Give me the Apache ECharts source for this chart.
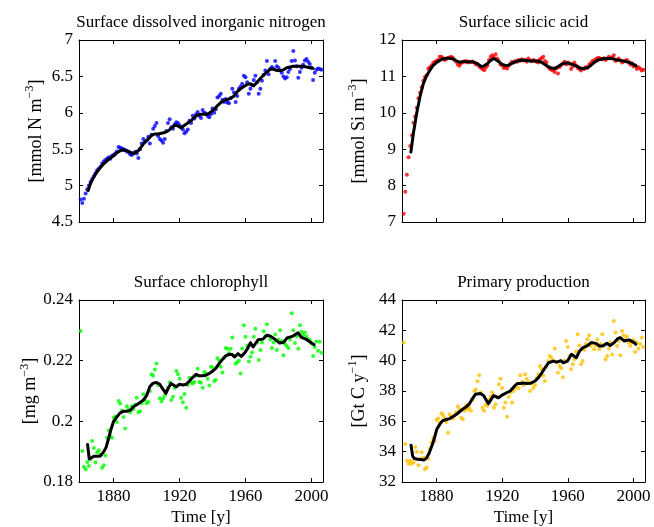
<!DOCTYPE html>
<html><head><meta charset="utf-8">
<script src="https://cdn.jsdelivr.net/npm/echarts@6/dist/echarts.min.js"></script>
<style>html,body{margin:0;padding:0;background:#fff}#c{width:654px;height:527px}</style>
</head><body><div id="c"></div>
<script>
const FIRST_YEAR = 1860;
const xTicks = [1880, 1920, 1960, 2000];

const nitrogenPoints = [
4.81,4.76,4.82,4.89,4.95,5.00,5.05,5.09,5.13,5.17,
5.21,5.23,5.26,5.30,5.33,5.35,5.37,5.39,5.37,5.41,
5.42,5.44,5.47,5.53,5.52,5.51,5.50,5.49,5.47,5.46,
5.43,5.42,5.44,5.46,5.44,5.38,5.50,5.58,5.64,5.60,
5.62,5.67,5.58,5.70,5.78,5.82,5.86,5.68,5.64,5.62,
5.59,5.64,5.75,5.86,5.91,5.80,5.78,5.84,5.87,5.86,
5.83,5.80,5.77,5.72,5.74,5.77,5.89,5.86,5.96,5.92,
5.98,6.01,5.96,5.93,6.04,6.00,5.99,5.96,5.94,5.98,
6.06,6.00,6.05,6.21,6.23,6.26,6.18,6.15,6.19,6.14,
6.13,6.20,6.33,6.28,6.15,6.23,6.33,6.36,6.40,6.51,
6.49,6.42,6.26,6.33,6.38,6.45,6.51,6.42,6.26,6.33,
6.44,6.52,6.58,6.71,6.53,6.60,6.63,6.60,6.71,6.64,
6.62,6.58,6.55,6.50,6.47,6.49,6.56,6.60,6.71,6.85,
6.72,6.64,6.48,6.56,6.62,6.66,6.72,6.74,6.70,6.67,
6.62,6.45,6.55,6.59,6.61,6.60,6.59];
const nitrogenSmooth = [[1864.5,4.93],[1866,5.03],[1868,5.12],[1870,5.19],[1872,5.25],[1874,5.30],[1876,5.34],[1878,5.38],[1880,5.41],[1882,5.45],[1884,5.48],[1886,5.49],[1888,5.48],[1890,5.46],[1892,5.44],[1893,5.44],[1895,5.48],[1897,5.54],[1899,5.60],[1901,5.64],[1903,5.69],[1905,5.71],[1907,5.71],[1909,5.72],[1911,5.73],[1913,5.75],[1915,5.79],[1917,5.83],[1919,5.82],[1921,5.79],[1923,5.83],[1925,5.86],[1927,5.89],[1929,5.94],[1931,5.97],[1933,5.98],[1935,5.98],[1937,5.98],[1939,6.01],[1941,6.05],[1943,6.10],[1945,6.14],[1947,6.17],[1949,6.18],[1951,6.20],[1953,6.23],[1955,6.29],[1957,6.33],[1959,6.36],[1961,6.39],[1963,6.40],[1965,6.37],[1967,6.42],[1969,6.47],[1971,6.52],[1973,6.56],[1975,6.60],[1977,6.60],[1979,6.58],[1981,6.58],[1983,6.59],[1985,6.62],[1987,6.63],[1989,6.64],[1991,6.64],[1993,6.64],[1995,6.64],[1997,6.63],[1999,6.62],[2001,6.61]];

const silicaPoints = [
7.23,7.83,8.30,8.78,9.09,9.38,9.73,9.90,10.14,10.40,
10.55,10.70,10.88,10.98,11.03,11.21,11.25,11.30,11.37,11.40,
11.42,11.45,11.54,11.54,11.50,11.45,11.48,11.51,11.52,11.54,
11.51,11.45,11.40,11.33,11.29,11.36,11.40,11.41,11.42,11.38,
11.40,11.39,11.41,11.38,11.33,11.35,11.27,11.24,11.20,11.17,
11.24,11.30,11.45,11.54,11.58,11.52,11.61,11.49,11.42,11.33,
11.30,11.23,11.26,11.22,11.29,11.35,11.40,11.38,11.42,11.40,
11.45,11.43,11.47,11.44,11.45,11.40,11.49,11.44,11.42,11.45,
11.43,11.40,11.38,11.47,11.50,11.54,11.42,11.38,11.26,11.20,
11.18,11.16,11.12,11.22,11.08,11.26,11.31,11.36,11.40,11.33,
11.38,11.35,11.20,11.27,11.38,11.30,11.24,11.20,11.16,11.22,
11.20,11.26,11.24,11.33,11.37,11.42,11.44,11.47,11.50,11.51,
11.48,11.47,11.50,11.45,11.49,11.54,11.50,11.52,11.58,11.42,
11.46,11.49,11.44,11.38,11.41,11.43,11.45,11.40,11.33,11.36,
11.27,11.30,11.20,11.25,11.22,11.16,11.18];
const silicaSmooth = [[1864.4,8.92],[1866,9.45],[1868,10.0],[1870,10.45],[1872,10.80],[1874,11.02],[1876,11.17],[1878,11.30],[1880,11.38],[1882,11.44],[1884,11.48],[1886,11.50],[1888,11.50],[1890,11.48],[1892,11.43],[1894,11.39],[1896,11.40],[1898,11.40],[1900,11.40],[1902,11.40],[1904,11.37],[1906,11.31],[1907.6,11.27],[1909,11.29],[1911,11.35],[1913,11.44],[1914.8,11.49],[1916.5,11.45],[1918,11.40],[1920,11.33],[1922,11.30],[1924,11.31],[1926,11.36],[1928,11.40],[1930,11.43],[1932,11.45],[1934,11.44],[1936,11.43],[1938,11.42],[1940,11.42],[1942,11.42],[1944,11.39],[1946,11.33],[1948,11.27],[1950,11.23],[1952,11.22],[1954,11.27],[1956,11.33],[1958,11.36],[1960,11.37],[1962,11.34],[1964,11.31],[1966,11.27],[1968,11.22],[1970,11.22],[1972,11.24],[1974,11.30],[1976,11.38],[1978,11.44],[1980,11.47],[1982,11.49],[1984,11.49],[1986,11.49],[1988,11.48],[1990,11.45],[1992,11.44],[1994,11.42],[1996,11.40],[1998,11.37],[2000,11.33],[2001.6,11.29]];

const chlPoints = [
0.2298,0.1902,0.1850,0.1842,0.1866,0.1853,0.1875,0.1935,0.1912,0.1864,
0.1898,0.1905,0.1890,0.1847,0.1855,0.1887,0.1946,0.1970,0.1950,0.1946,
0.2012,0.2015,0.1998,0.2067,0.2059,0.2036,0.2014,0.1976,0.2050,0.2040,
0.2030,0.2050,0.2040,0.2055,0.2078,0.2030,0.2033,0.2060,0.2089,0.2070,
0.2060,0.2064,0.2100,0.2155,0.2150,0.2171,0.2191,0.2120,0.2076,0.2065,
0.2075,0.2085,0.2100,0.2111,0.2129,0.2070,0.2081,0.2110,0.2166,0.2155,
0.2140,0.2078,0.2063,0.2090,0.2045,0.2120,0.2144,0.2128,0.2125,0.2130,
0.2150,0.2173,0.2130,0.2127,0.2111,0.2163,0.2158,0.2140,0.2118,0.2180,
0.2177,0.2133,0.2136,0.2208,0.2200,0.2180,0.2161,0.2210,0.2242,0.2239,
0.2225,0.2239,0.2276,0.2215,0.2190,0.2195,0.2200,0.2158,0.2240,0.2317,
0.2279,0.2250,0.2197,0.2213,0.2227,0.2279,0.2305,0.2260,0.2202,0.2235,
0.2260,0.2297,0.2280,0.2320,0.2283,0.2270,0.2242,0.2260,0.2286,0.2235,
0.2270,0.2300,0.2265,0.2218,0.2255,0.2248,0.2242,0.2270,0.2356,0.2300,
0.2258,0.2280,0.2239,0.2317,0.2295,0.2285,0.2293,0.2280,0.2270,0.2268,
0.2257,0.2215,0.2245,0.2263,0.2233,0.2262,0.2226];
const chlSmooth = [[1864.2,0.1924],[1865.2,0.1876],[1866.5,0.1880],[1868,0.1885],[1870,0.1885],[1872,0.1886],[1874,0.1900],[1875.5,0.1915],[1877,0.1945],[1878.5,0.1975],[1880,0.2000],[1882,0.2015],[1884,0.2028],[1886,0.2033],[1888,0.2033],[1890,0.2036],[1892,0.2048],[1894,0.2055],[1896,0.2062],[1898,0.2070],[1900,0.2085],[1902,0.2115],[1904,0.2126],[1906,0.2128],[1908,0.2122],[1910,0.2105],[1911.7,0.2092],[1913,0.2108],[1914.8,0.2125],[1916,0.2122],[1918,0.2114],[1920,0.2122],[1922,0.2120],[1924,0.2122],[1926,0.2133],[1928,0.2145],[1930,0.2155],[1932,0.2150],[1934,0.2150],[1936,0.2152],[1938,0.2158],[1940,0.2165],[1942,0.2175],[1944,0.2190],[1946,0.2204],[1948,0.2216],[1950,0.2221],[1952,0.2220],[1953.4,0.2212],[1955.4,0.2223],[1957.4,0.2214],[1959.4,0.2225],[1961.5,0.2242],[1963,0.2259],[1964.6,0.2245],[1967.6,0.2269],[1970.6,0.2271],[1972.7,0.2284],[1975,0.2281],[1977.7,0.2271],[1980.7,0.2258],[1983.2,0.2261],[1985.2,0.2275],[1988.8,0.2281],[1991.9,0.2292],[1993.9,0.2277],[1997,0.2270],[2000,0.2258],[2001.6,0.2253]];

const ppPoints = [
41.2,34.5,33.4,33.2,33.4,33.2,33.3,34.3,34.0,33.1,
33.55,33.96,33.6,32.84,32.95,33.55,34.2,34.6,34.9,34.7,
36.09,36.18,35.9,36.53,36.4,36.2,35.95,35.25,36.46,36.3,
36.18,36.4,36.6,37.0,36.8,36.24,36.13,36.7,37.06,36.8,
36.9,36.7,37.4,38.0,38.1,38.65,39.04,37.9,36.9,36.7,
37.1,37.03,37.4,37.64,37.9,36.9,37.13,37.6,38.44,38.8,
38.2,36.9,37.24,36.31,37.6,37.9,37.24,38.0,38.2,38.44,
38.2,39.04,38.6,38.38,39.1,38.8,38.6,38.0,38.5,38.2,
38.4,38.86,39.1,39.65,39.43,39.0,38.66,39.6,39.97,40.3,
40.2,40.0,40.8,39.9,39.2,39.65,39.5,38.9,40.0,41.3,
40.9,40.3,39.43,39.76,40.1,40.6,41.74,41.0,39.76,39.97,
40.7,41.1,41.41,41.67,40.97,41.2,40.75,41.0,41.4,40.75,
41.1,41.74,41.0,40.1,40.3,40.8,41.2,40.4,42.62,41.85,
40.97,41.3,40.35,41.96,41.67,41.4,41.6,41.2,40.97,41.2,
41.37,40.57,41.19,40.8,41.1,41.52,40.9];
const ppSmooth = [[1864.5,34.42],[1865.5,33.7],[1866.5,33.55],[1868.5,33.5],[1870.5,33.48],[1872.5,33.45],[1874,33.6],[1875.5,33.9],[1877.6,34.5],[1879,35.0],[1880.2,35.48],[1882,35.8],[1883.6,36.03],[1886,36.12],[1888,36.18],[1890.6,36.35],[1892.6,36.5],[1894.6,36.68],[1896.6,36.85],[1898.6,37.0],[1900,37.15],[1901.6,37.45],[1903.7,37.78],[1906.7,37.84],[1908.7,37.7],[1910,37.45],[1911.7,37.17],[1913,37.4],[1914.8,37.7],[1916,37.65],[1917.8,37.55],[1919.5,37.7],[1920.8,37.78],[1923,37.9],[1924.9,38.0],[1926.5,38.2],[1927.9,38.37],[1929.5,38.5],[1931.3,38.5],[1933,38.52],[1935,38.5],[1937.1,38.51],[1940.1,38.66],[1942.2,38.9],[1944.2,39.2],[1946.2,39.55],[1948.2,39.86],[1951.2,39.97],[1953.2,39.9],[1955.8,40.0],[1957.2,39.86],[1959.8,39.97],[1962.2,40.42],[1963.2,40.3],[1965.2,40.2],[1967.2,40.64],[1969.2,40.86],[1971.8,40.97],[1974.2,41.19],[1977.2,41.14],[1979.2,40.97],[1981.2,40.97],[1983.8,41.14],[1985.8,41.0],[1988.2,41.19],[1990.3,41.45],[1991.9,41.52],[1994.3,41.3],[1997.3,41.37],[2000.4,41.19],[2001.4,41.08]];

const titles = ['Surface dissolved inorganic nitrogen','Surface silicic acid','Surface chlorophyll','Primary production'];
const unitMain = ['[mmol N m','[mmol Si m','[mg m','[Gt C y'];
const unitExp = ['\u22123','\u22123','\u22123','\u22121'];
const xLabel = 'Time [y]';

const FONT = '"Liberation Serif","Times New Roman",serif';
const years = nitrogenPoints.map((_, i) => FIRST_YEAR + i);

const panels = [
  {pts: nitrogenPoints, sm: nitrogenSmooth, color: '#0000ff', yMin: 4.5, yMax: 7, yInt: 0.5, grid: {left: 79, top: 40, width: 244, height: 182}, bottom: false},
  {pts: silicaPoints, sm: silicaSmooth, color: '#ff0000', yMin: 7, yMax: 12, yInt: 1, grid: {left: 402, top: 40, width: 243, height: 182}, bottom: false},
  {pts: chlPoints, sm: chlSmooth, color: '#00ff00', yMin: 0.18, yMax: 0.24, yInt: 0.02, grid: {left: 79, top: 300, width: 244, height: 182}, bottom: true},
  {pts: ppPoints, sm: ppSmooth, color: '#ffbf00', yMin: 32, yMax: 44, yInt: 2, grid: {left: 402, top: 300, width: 243, height: 182}, bottom: true}
];

const lineStyle = {color: '#000', width: 1};
const tick = {show: true, inside: true, length: 4, lineStyle: {color: '#000', width: 1}};
const grids = [], xAxes = [], yAxes = [], series = [];
panels.forEach((p, g) => {
  grids.push(Object.assign({containLabel: false}, p.grid));
  xAxes.push({
    type: 'value', gridIndex: g, position: 'bottom', min: 1859, max: 2007,
    axisLine: {show: true, onZero: false, lineStyle},
    axisTick: Object.assign({customValues: xTicks}, tick),
    axisLabel: {show: p.bottom, customValues: xTicks, margin: 6, color: '#000', fontFamily: FONT, fontSize: 17, formatter: v => String(v)},
    splitLine: {show: false},
    name: p.bottom ? xLabel : '', nameLocation: 'middle', nameGap: 27,
    nameTextStyle: {color: '#000', fontFamily: FONT, fontSize: 17}
  });
  xAxes.push({
    type: 'value', gridIndex: g, position: 'top', min: 1859, max: 2007,
    axisLine: {show: true, onZero: false, lineStyle},
    axisTick: Object.assign({customValues: xTicks}, tick),
    axisLabel: {show: false, customValues: xTicks},
    splitLine: {show: false},
    name: titles[g], nameLocation: 'middle', nameGap: 9,
    nameTextStyle: {color: '#000', fontFamily: FONT, fontSize: 17}
  });
  yAxes.push({
    type: 'value', gridIndex: g, position: 'left', min: p.yMin, max: p.yMax, interval: p.yInt,
    axisLine: {show: true, onZero: false, lineStyle},
    axisTick: tick,
    axisLabel: {show: true, margin: 6, color: '#000', fontFamily: FONT, fontSize: 17},
    splitLine: {show: false},
    name: '{a|' + unitMain[g] + '}{s|' + unitExp[g] + '}{a|]}',
    nameLocation: 'middle', nameRotate: 90, nameGap: 34,
    nameTextStyle: {
      color: '#000', fontFamily: FONT, fontSize: 18,
      rich: {
        a: {color: '#000', fontFamily: FONT, fontSize: 18, lineHeight: 21, verticalAlign: 'bottom'},
        s: {color: '#000', fontFamily: FONT, fontSize: 12, lineHeight: 12, verticalAlign: 'top'}
      }
    }
  });
  yAxes.push({
    type: 'value', gridIndex: g, position: 'right', min: p.yMin, max: p.yMax, interval: p.yInt,
    axisLine: {show: true, onZero: false, lineStyle},
    axisTick: tick,
    axisLabel: {show: false},
    splitLine: {show: false}
  });
  series.push({
    type: 'scatter', xAxisIndex: 2 * g, yAxisIndex: 2 * g,
    data: years.map((y, i) => [y, p.pts[i]]),
    symbol: 'circle', symbolSize: 4,
    itemStyle: {color: p.color}, z: 2, silent: true
  });
  series.push({
    type: 'line', xAxisIndex: 2 * g, yAxisIndex: 2 * g,
    data: p.sm, showSymbol: false, symbol: 'none', smooth: false,
    lineStyle: {color: '#000', width: 3, cap: 'round', join: 'round'}, z: 3, silent: true
  });
});

const chart = echarts.init(document.getElementById('c'), null, {renderer: 'canvas'});
chart.setOption({
  animation: false,
  backgroundColor: '#fff',
  grid: grids, xAxis: xAxes, yAxis: yAxes, series: series
});
</script></body></html>
